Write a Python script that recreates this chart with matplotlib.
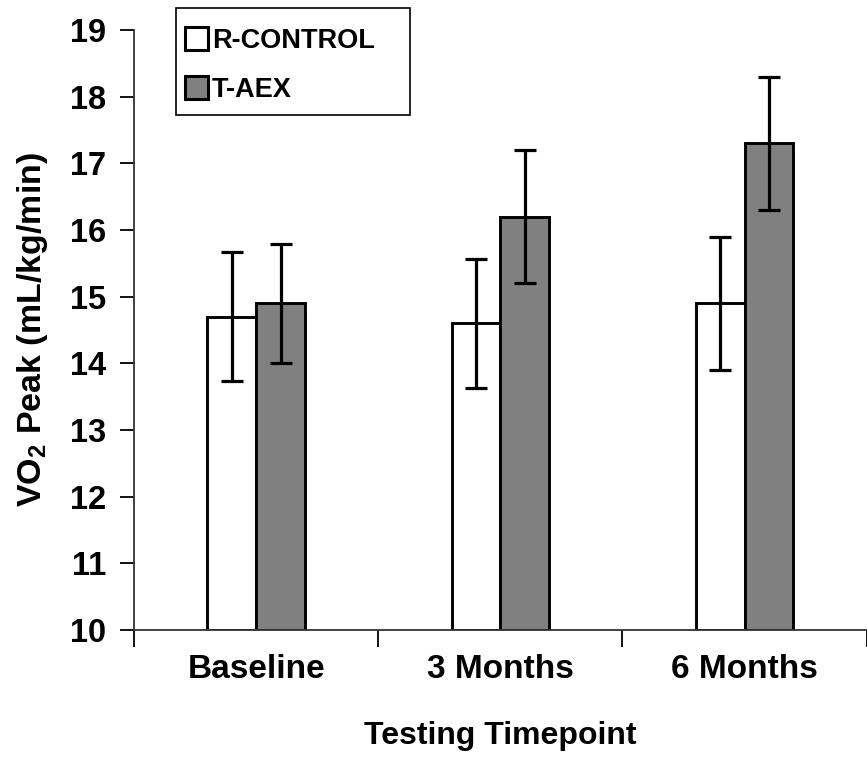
import matplotlib
matplotlib.use("Agg")
import matplotlib.pyplot as plt
import numpy as np
from matplotlib.patches import Patch, Rectangle

plt.rcParams['font.family'] = ['Liberation Sans', 'DejaVu Sans']
plt.rcParams['font.weight'] = 'bold'
plt.rcParams['mathtext.fontset'] = 'custom'
plt.rcParams['mathtext.rm'] = 'Liberation Sans:bold'
plt.rcParams['mathtext.bf'] = 'Liberation Sans:bold'

categories = ["Baseline", "3 Months", "6 Months"]
series_names = ["R-CONTROL", "T-AEX"]
r_control = [14.7, 14.6, 14.9]
r_control_err = [0.97, 0.97, 1.0]
t_aex = [14.9, 16.2, 17.3]
t_aex_err = [0.89, 1.0, 1.0]
yticks = [10, 11, 12, 13, 14, 15, 16, 17, 18, 19]

fig = plt.figure(figsize=(8.67, 7.57), dpi=100)
ax = fig.add_axes([0.1546, 0.1678, 0.845, 0.7925])

x = np.arange(len(categories))
w = 0.2
lw = 2.1
ax.bar(x - w/2, np.array(r_control) - 10, w, bottom=10, color='white',
       edgecolor='black', linewidth=lw, zorder=2)
ax.bar(x + w/2, np.array(t_aex) - 10, w, bottom=10, color='#808080',
       edgecolor='black', linewidth=lw, zorder=2)
ax.errorbar(x - w/2, r_control, yerr=r_control_err, fmt='none', ecolor='black',
            elinewidth=2.3, capsize=8, capthick=2.3, zorder=3)
ax.errorbar(x + w/2, t_aex, yerr=t_aex_err, fmt='none', ecolor='black',
            elinewidth=2.3, capsize=8, capthick=2.3, zorder=3)

ax.set_ylim(10, 19)
ax.set_xlim(-0.5, 2.5)
ax.set_yticks(yticks)
ax.set_yticklabels([str(t) for t in yticks], fontsize=23.5, fontweight='bold')
ax.set_xticks(x)
ax.set_xticklabels(categories, fontsize=24, fontweight='bold')
ax.set_xticks([-0.5, 0.5, 1.5, 2.5], minor=True)
ax.tick_params(axis='x', which='major', length=0, pad=17)
ax.tick_params(axis='x', which='minor', length=12, width=1.3, direction='out')
ax.tick_params(axis='y', length=10, width=1.3, direction='out', pad=10)

for s in ['top', 'right']:
    ax.spines[s].set_visible(False)
for s in ['left', 'bottom']:
    ax.spines[s].set_linewidth(1.3)
    ax.spines[s].set_color('#333333')

ax.set_xlabel("Testing Timepoint", fontsize=23, fontweight='bold', va='top')
ax.xaxis.set_label_coords(0.5, -0.151)
ax.set_ylabel(r"VO$_{\mathbf{2}}$ Peak (mL/kg/min)", fontsize=24.5, fontweight='bold')
ax.yaxis.set_label_coords(-0.115, 0.5)

handles = [Patch(facecolor='white', edgecolor='black', linewidth=2.2),
           Patch(facecolor='#808080', edgecolor='black', linewidth=2.2)]
leg = fig.legend(handles, series_names, loc='upper left',
                 bbox_to_anchor=(185/867, 1 - 27/757), frameon=False,
                 prop={'family': 'Liberation Sans', 'weight': 'bold', 'size': 19.5},
                 handlelength=0.85, handleheight=0.95, handletextpad=0.15,
                 labelspacing=0.8, borderpad=0, borderaxespad=0)
fig.add_artist(Rectangle((176/867, 1 - 115/757), (410 - 176)/867, (115 - 8)/757,
                         transform=fig.transFigure, facecolor='none',
                         edgecolor='black', linewidth=1.2))

fig.savefig("out.png", dpi=100)
